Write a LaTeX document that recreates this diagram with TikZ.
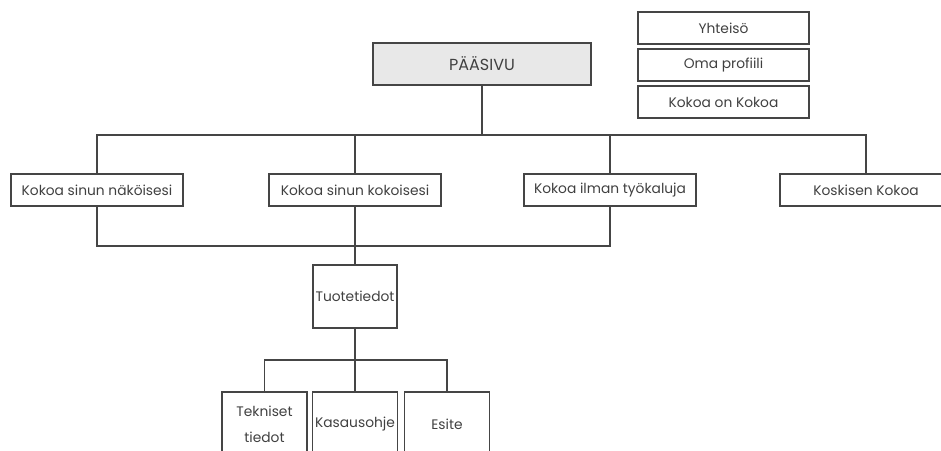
\documentclass[tikz,border=0pt]{standalone}
\usepackage{fontspec}
\setmainfont{Poppins}
\usepackage{xcolor}
\definecolor{lineGray}{gray}{0.27}
\definecolor{textGray}{gray}{0.25}
\definecolor{mainFill}{gray}{0.91}

\begin{document}
\begin{tikzpicture}[x=1pt, y=-1pt, line width=1.3pt,
    box/.style={draw=lineGray, text=textGray, font=\fontsize{13.8}{16}\selectfont,
        minimum width=172pt, minimum height=32pt, inner sep=0pt, align=center},
    smallbox/.style={box, minimum width=85pt, minimum height=64pt},
    link/.style={draw=lineGray}]
    \useasboundingbox (0,0) rectangle (941,450);
    % main page and side links
    \node[box, fill=mainFill, minimum width=218pt, minimum height=42pt,
        font=\fontsize{16}{18}\selectfont] (paasivu) at (482,64){PÄÄSIVU};
    \node[box, minimum width=171pt] (yhteiso) at (723.5,28){Yhteisö};
    \node[box, minimum width=171pt] (profiili) at (723.5,65){Oma profiili};
    \node[box, minimum width=171pt] (kokoaon) at (723.5,102){Kokoa on Kokoa};
    % first level
    \node[box] (nakoisesi) at (97,190){Kokoa sinun näköisesi};
    \node[box] (kokoisesi) at (355,190){Kokoa sinun kokoisesi};
    \node[box] (tyokaluja) at (610,190){Kokoa ilman työkaluja};
    \node[box] (koskisen) at (866,190){Koskisen Kokoa};
    % product info
    \node[box, minimum width=84pt, minimum height=63pt] (tuote) at (355,296.5){Tuotetiedot};
    \node[smallbox, font=\fontsize{13.8}{26}\selectfont] (tekniset) at (264.5,424){Tekniset\\tiedot};
    \node[smallbox] (kasaus) at (355,424){Kasausohje};
    \node[smallbox] (esite) at (447,424){Esite};
    \coordinate (bar1) at (482,135);
    \coordinate (bar2) at (355,246);
    \coordinate (bar3) at (355,360);
    \draw[link] (paasivu) -- (bar1);
    \draw[link] (nakoisesi.north) |- (bar1) -| (koskisen.north);
    \draw[link] (kokoisesi.north) -- (kokoisesi.north |- bar1);
    \draw[link] (tyokaluja.north) -- (tyokaluja.north |- bar1);
    \draw[link] (nakoisesi.south) |- (bar2) -| (tyokaluja.south);
    \draw[link] (kokoisesi.south) -- (tuote.north);
    \draw[link] (tuote.south) -- (kasaus.north);
    \draw[link] (tekniset.north) |- (bar3) -| (esite.north);
\end{tikzpicture}
\end{document}
